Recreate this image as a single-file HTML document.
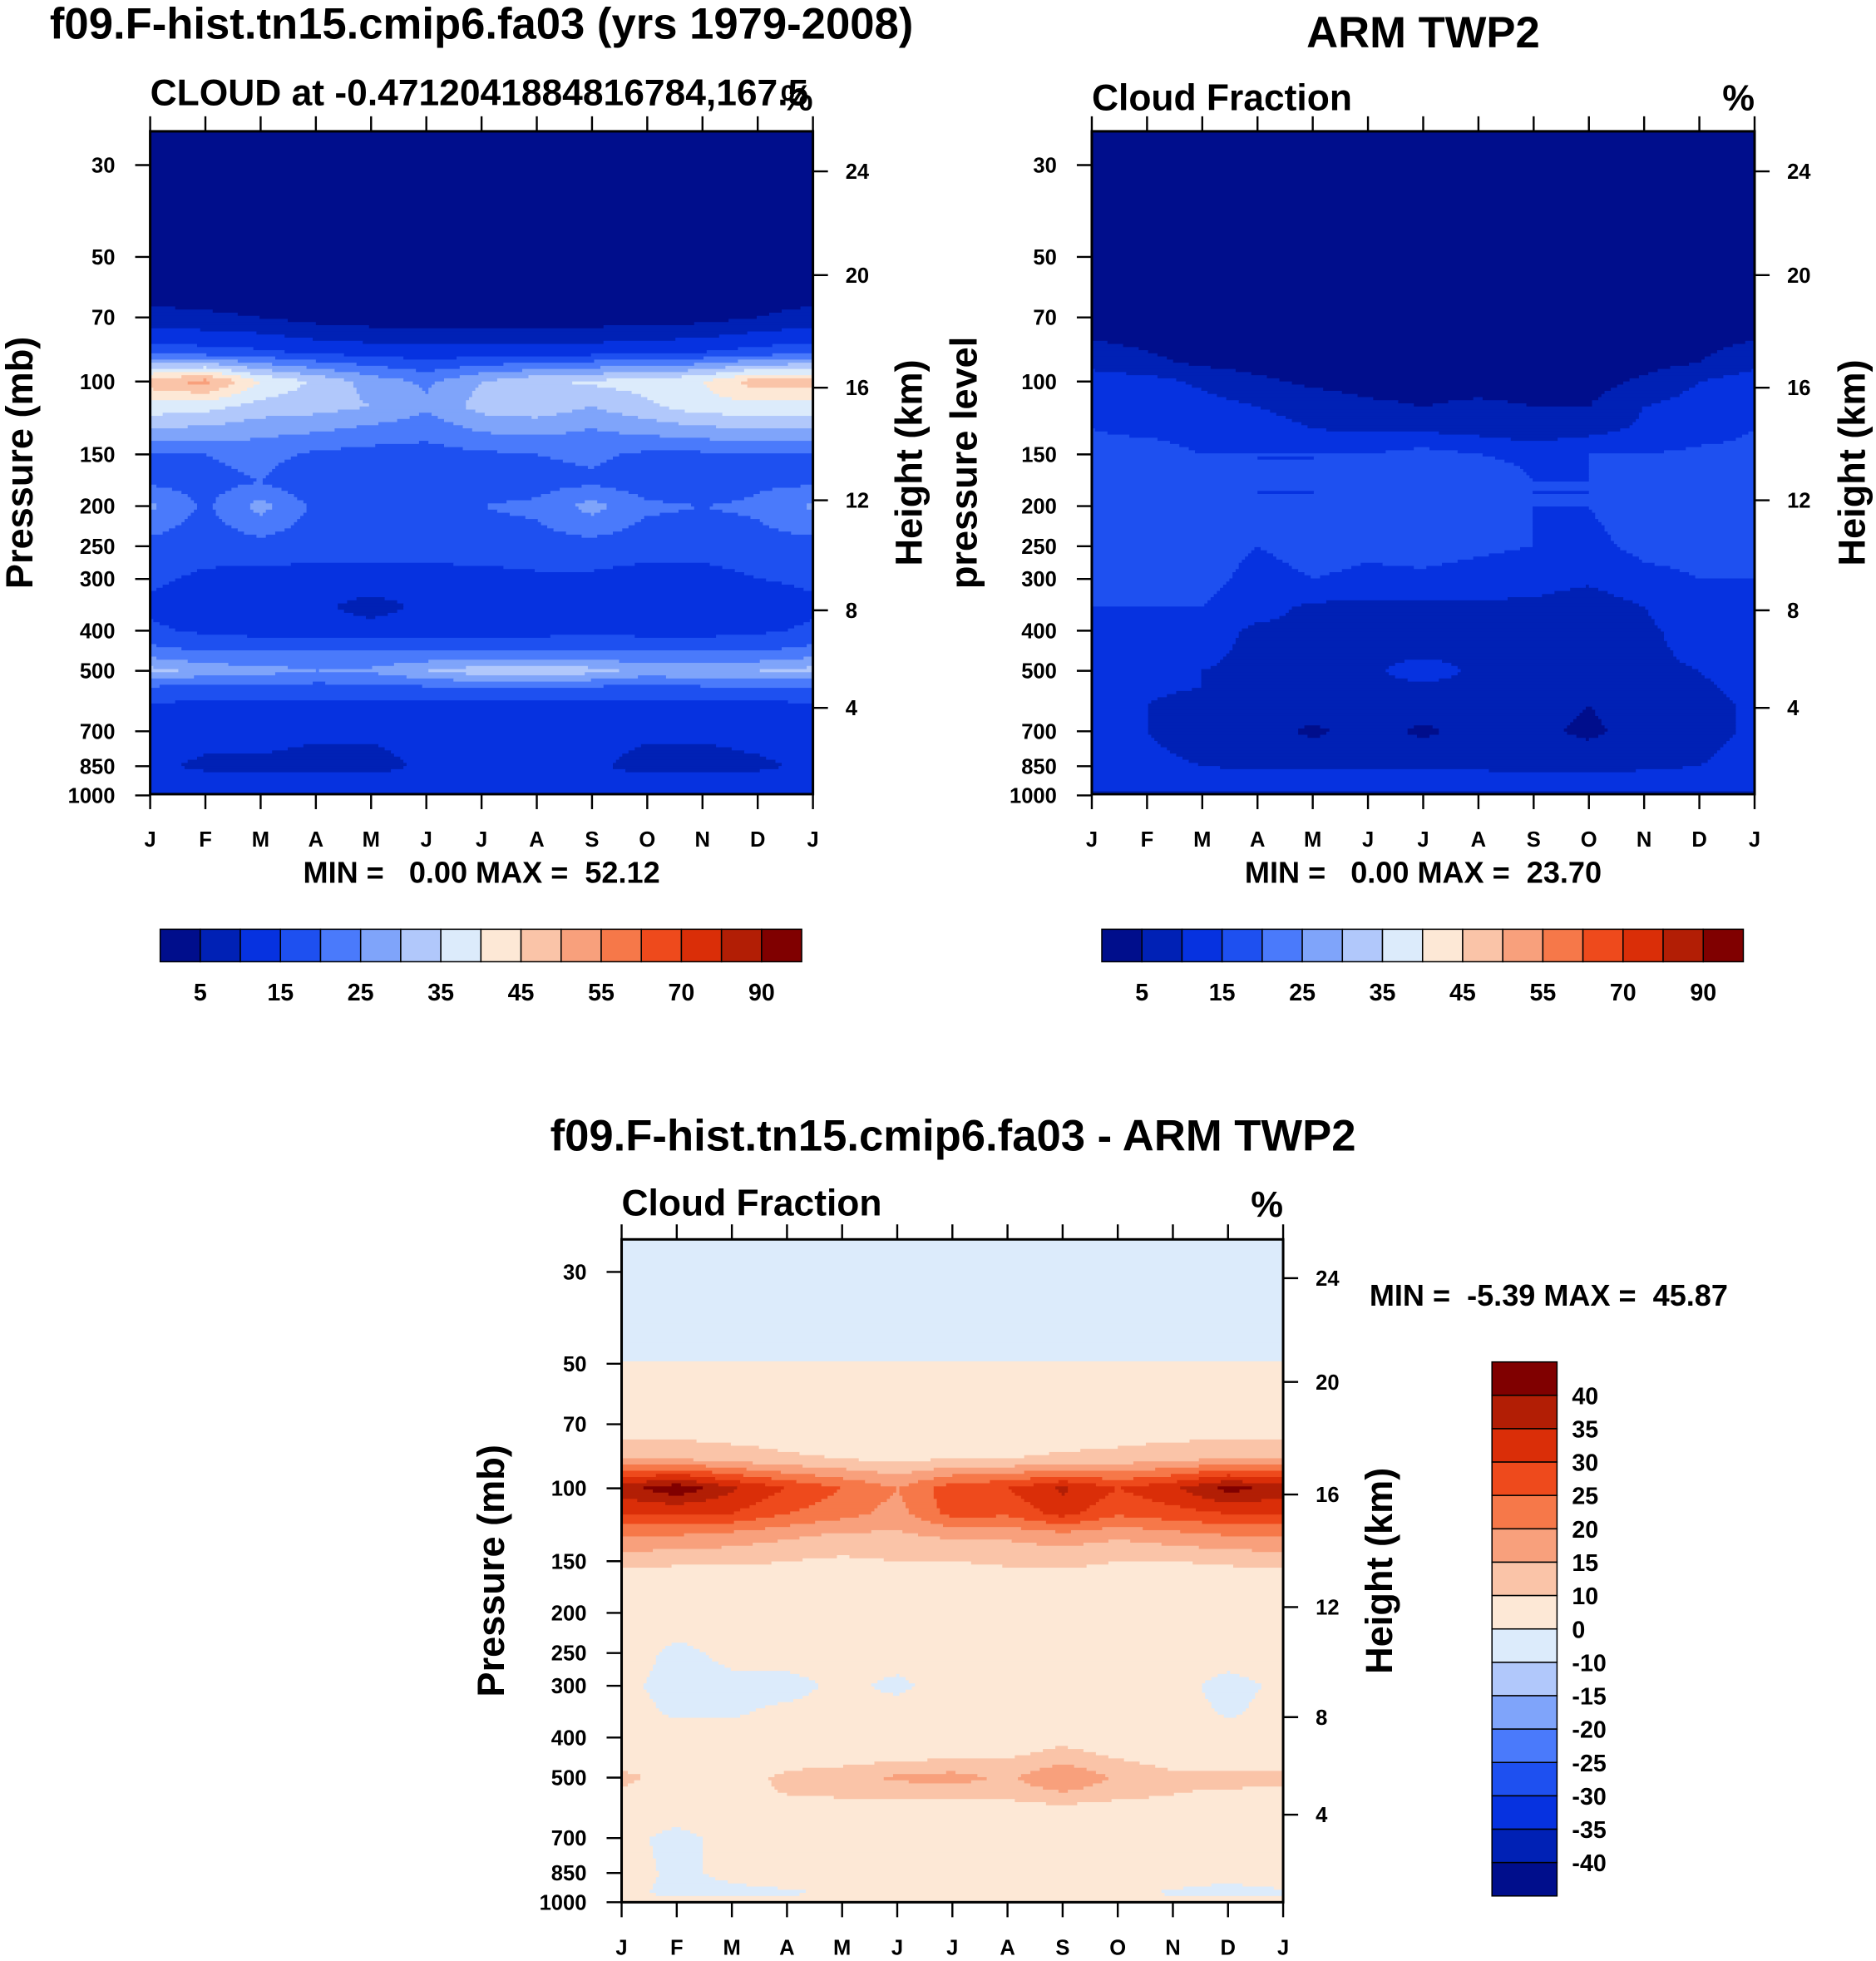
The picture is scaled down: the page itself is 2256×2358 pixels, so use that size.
<!DOCTYPE html>
<html><head><meta charset="utf-8"><style>
html,body{margin:0;padding:0;background:#fff}
svg{display:block}
text{font-family:"Liberation Sans",Arial,sans-serif;font-weight:bold;fill:#000}
</style></head><body>
<svg id="root" xmlns="http://www.w3.org/2000/svg" width="2256" height="2358" viewBox="0 0 1500 1568">
<rect width="1500" height="1568" fill="#fff"/>
<g id="g"></g>
</svg>
<script>
// ---------------- data ----------------
const months=['J','F','M','A','M','J','J','A','S','O','N','D','J'];
const pTicks=[30,50,70,100,150,200,250,300,400,500,700,850,1000];
const hTickLabels=[24,20,16,12,8,4];
const cbLevels=[5,10,15,20,25,30,35,40,45,50,55,60,70,80,90];
const cbLabels=['5','15','25','35','45','55','70','90'];
const diffLevels=[-40,-35,-30,-25,-20,-15,-10,0,10,15,20,25,30,35,40];
const diffLabels=['40','35','30','25','20','15','10','0','-10','-15','-20','-25','-30','-35','-40'];

const pLevels1=[20,60,70,85,100,115,130,150,175,200,250,300,350,400,450,500,550,600,700,850,925,1000];
const model=[
[2,2,2,2,2,2,2,2,2,2,2,2,2],
[2,2,2,2,2,2,2,2,2,2,2,2,2],
[7,6,5,3,2,2,2,2,2,2,3,5,7],
[18,17,16,14,13,12,12,12,13,14,15,17,18],
[48,52,40,34,28,24,30,34,36,37,40,48,48],
[38,37,33,32,30,26,32,33,30,34,38,38,38],
[30,29,27,26,24,22,26,27,25,27,29,30,30],
[20,20,22,19,18,18,19,20,21,19,19,20,20],
[19,18,20,15,16,16,18,18,19,17,16,19,19],
[26,19,27,19,18,19,20,21,27,21,20,21,26],
[18,17,18,17,17,17,18,18,18,17,17,18,18],
[16,14,13,13,13,13,13,14,14,13,13,15,16],
[14,11,10,11,8,11,11,11,11,10,11,11,14],
[16,14,13,13,12,13,13,13,14,13,13,14,16],
[22,20,20,20,20,20,20,20,20,20,20,20,22],
[32,28,27,25,26,30,33,34,32,28,30,30,32],
[19,18,18,18,18,19,20,20,19,18,19,19,19],
[15,14,14,14,14,14,14,14,14,14,14,14,15],
[13,12,12,11,11,12,12,12,12,11,11,12,13],
[11,9,9,8,8,11,11,11,11,8,8,9,11],
[13,12,12,12,12,12,12,12,12,12,12,12,13],
[10,10,10,10,10,10,10,10,10,10,10,10,10]];

const pLevels2=[20,70,90,100,115,130,150,175,200,250,300,350,400,450,500,550,600,700,850,950,1000];
const obs=[
[2,2,2,2,2,2,2,2,2,2,2,2,2],
[2,2,2,2,2,2,2,2,2,2,2,2,2],
[8,6,4,3,2,2,2,2,2,2,3,5,8],
[13,12,9,6,4,3,3,3,3,3,6,10,13],
[14,13,12,10,8,6,5,6,5,5,10,12,14],
[15,14,13,12,10,9,9,8,6,8,11,13,15],
[16,17,15,15,15,15,17,15,14,15,15,16,16],
[16,18,17,15,15,17,18,18,15,15,17,16,16],
[18,18,19,15,15,16,19,19,15,15,17,19,18],
[15,17,18,15,17,16,17,16,15,14,16,16,15],
[15,15,17,13,15,14,14,13,12,11,14,15,15],
[15,15,15,12,9,9,9,9,9,7,10,14,15],
[15,14,12,9,9,9,9,9,8,6,9,12,15],
[14,13,11,9,9,9,9,9,8,5,9,11,14],
[13,12,10,9,9,9,12,9,8,5,9,10,13],
[12,11,10,9,9,9,9,9,8,5,9,9,12],
[11,10,8,8,8,8,8,8,8,5,8,8,11],
[11,10,8,7,4,7,4,7,6,4,7,8,11],
[12,11,10,9,9,9,9,9,8,8,9,10,12],
[14,14,14,14,14,14,14,14,14,14,14,14,14],
[8,8,8,8,8,8,8,8,8,8,8,8,8]];

const pLevels3=[20,45,55,70,85,100,115,130,150,175,200,250,300,350,400,450,500,550,600,700,850,950,1000];
const diff=[
[-3,-3,-3,-3,-3,-3,-3,-3,-3,-3,-3,-3,-3],
[-3,-3,-3,-3,-3,-3,-3,-3,-3,-3,-3,-3,-3],
[4,4,4,4,4,4,4,4,4,4,4,4,4],
[6,6,6,6,6,6,6,6,6,6,6,6,6],
[15,15,13,11,10,9,10,10,11,12,14,15,15],
[38,44,36,30,25,20,28,30,36,30,34,42,38],
[30,30,30,25,22,18,27,26,32,26,28,30,30],
[20,20,18,16,14,14,16,16,18,16,18,20,20],
[12,11,11,10,9,10,10,11,11,10,10,11,12],
[5,5,5,6,5,5,5,6,7,8,5,5,5],
[5,5,4,5,5,4,5,7,10,10,5,5,5],
[4,-2,2,4,4,4,5,5,7,7,4,4,4],
[2,-3,-2,-3,2,-2,4,4,4,4,3,-3,2],
[3,-1,-1,2,3,4,4,4,4,4,4,-1,3],
[4,4,4,4,5,5,5,5,8,5,4,4,4],
[6,7,8,8,8,9,10,10,13,10,8,7,6],
[12,7,8,11,13,16,17,14,20,14,11,12,12],
[8,7,9,10,11,11,12,12,14,12,10,9,8],
[6,5,6,6,6,6,6,6,8,6,6,5,6],
[3,-3,3,4,4,4,4,4,4,4,4,4,3],
[4,-2,2,4,4,4,4,4,4,4,4,2,4],
[2,-2,-2,-1,1,2,2,1,3,2,-1,-2,-1],
[3,3,3,3,3,3,3,3,3,3,3,3,3]];

const colors=['#000E8C','#0021B5','#0632E0','#1E50F0','#4A7AFB','#7FA4FA','#B1C8FB','#DCEBFB','#FDE8D6','#FAC4A8','#F8A07C','#F67849','#EE4A1C','#DA2E08','#B21E05','#800000'];

// ---------------- helpers ----------------
const NS='http://www.w3.org/2000/svg';
const G=document.getElementById('g');
function el(tag,attrs,parent,txt){const e=document.createElementNS(NS,tag);for(const k in attrs)e.setAttribute(k,attrs[k]);if(txt!==undefined)e.textContent=txt;(parent||G).appendChild(e);return e;}
function colorIdx(v,levels){let i=0;while(i<levels.length&&v>=levels[i])i++;return i;}
function sample(grid,pl,m,p){
  const lp=Math.log(p);let k=0;
  if(p<=pl[0])k=0;else if(p>=pl[pl.length-1])k=pl.length-2;else{while(k<pl.length-2&&pl[k+1]<p)k++;}
  let t=(lp-Math.log(pl[k]))/(Math.log(pl[k+1])-Math.log(pl[k]));t=Math.max(0,Math.min(1,t));
  const m0=Math.max(0,Math.min(11,Math.floor(m))),u=m-m0;
  const a=grid[k][m0]*(1-u)+grid[k][m0+1]*u;
  const b=grid[k+1][m0]*(1-u)+grid[k+1][m0+1]*u;
  return a*(1-t)+b*t;
}

function panel(o){
  const {x0,y0,w,h,y30,y1000,grid,pl,levels,name,hY}=o;
  const g=el('g',{});
  
  
  const lpT=Math.log10(30),lpB=Math.log10(1000);
  const yToP=y=>Math.pow(10,lpT+(y-y30)/(y1000-y30)*(lpB-lpT));
  const pToY=p=>y30+(Math.log10(p)-lpT)/(lpB-lpT)*(y1000-y30);
  const xScale=m=>x0+m/12*w;
  const field=el('g',{},g);
  
  
  const nx=Math.ceil(w/2.5),ny=Math.ceil(h/2.5);
  const sx=w/nx,sy=h/ny;
  for(let j=0;j<ny;j++){
    const y=y0+j*sy;
    const p=yToP(y+sy/2);
    let runStart=0,runC=-1;
    for(let i=0;i<=nx;i++){
      let c=-2;
      if(i<nx){const m=(i+0.5)/nx*12;c=colorIdx(sample(grid,pl,m,p),levels);}
      if(c!==runC){
        if(runC>=0){
          const xs=x0+runStart*sx, xe=x0+i*sx;
          el('rect',{x:xs,y:y,width:xe-xs+(i<nx?0.4:0),height:sy+(j<ny-1?0.4:0),fill:colors[runC]},field);
        }
        runStart=i;runC=c;
      }
    }
  }
  el('rect',{x:x0,y:y0,width:w,height:h,fill:'none',stroke:'#000','stroke-width':2},g);
  pTicks.forEach(p=>{const y=pToY(p);
    el('line',{x1:x0-12,y1:y,x2:x0,y2:y,stroke:'#000','stroke-width':1.6},g);
    const t=el('text',{x:x0-28,y:y+6,'font-size':17,'text-anchor':'end'},g,String(p));
    
    
  });
  hTickLabels.forEach((hk,i)=>{const y=hY[i];
    el('line',{x1:x0+w,y1:y,x2:x0+w+12,y2:y,stroke:'#000','stroke-width':1.6},g);
    const t=el('text',{x:x0+w+26,y:y+6,'font-size':17},g,String(hk));
    
    
  });
  months.forEach((mo,i)=>{const x=xScale(i);
    el('line',{x1:x,y1:y0+h,x2:x,y2:y0+h+12,stroke:'#000','stroke-width':1.6},g);
    el('line',{x1:x,y1:y0,x2:x,y2:y0-12,stroke:'#000','stroke-width':1.6},g);
    const t=el('text',{x:x,y:y0+h+42,'font-size':17,'text-anchor':'middle'},g,mo);
    
    
  });
}
function label(x,y,size,txt,name,anchor,rot){
  const a={x:x,y:y,'font-size':size,'text-anchor':anchor||'start'};
  if(rot)a.transform='rotate(-90 '+x+' '+y+')';
  const t=el('text',a,G,txt);
  
  
  t.setAttribute('xml:space','preserve');t.style.whiteSpace='pre';
  return t;
}
function hbar(x0,y0,w,h,name){
  const g=el('g',{});
  
  
  const bw=w/colors.length;
  colors.forEach((c,i)=>el('rect',{x:x0+i*bw,y:y0,width:bw,height:h,fill:c,stroke:'#000','stroke-width':1},g));
  cbLabels.forEach((l,i)=>{const t=el('text',{x:x0+(2*i+1)*bw,y:y0+h+31,'font-size':19,'text-anchor':'middle'},g,l);
    
    });
}

// ---------------- panels ----------------
const hY1=[137,220,310,400,488,566];
panel({x0:120,y0:105,w:530,h:530,y30:132,y1000:636,grid:model,pl:pLevels1,levels:cbLevels,name:'model-panel',hY:hY1});
panel({x0:873,y0:105,w:530,h:530,y30:132,y1000:636,grid:obs,pl:pLevels2,levels:cbLevels,name:'obs-panel',hY:hY1});
panel({x0:497,y0:991,w:529,h:530,y30:1017,y1000:1521,grid:diff,pl:pLevels3,levels:diffLevels,name:'diff-panel',hY:[1022,1105,1195,1285,1373,1451]});

label(385,31,35,'f09.F-hist.tn15.cmip6.fa03 (yrs 1979-2008)','model-title','middle');
label(1138,38,35,'ARM TWP2','obs-title','middle');
label(120,84,29.5,'CLOUD at -0.4712041884816784,167.5','model-subtitle');
label(650,88,29,'%','model-units','end');
label(873,88,29.5,'Cloud Fraction','obs-subtitle');
label(1403,88,29,'%','obs-units','end');
label(26,370,30,'Pressure (mb)','model-y-axis-title','middle',true);
label(737,370,30,'Height (km)','model-right-axis-title','middle',true);
label(781,370,30,'pressure level','obs-y-axis-title','middle',true);
label(1491,370,30,'Height (km)','obs-right-axis-title','middle',true);
label(385,706,24,'MIN =   0.00 MAX =  52.12','model-minmax','middle');
label(1138,706,24,'MIN =   0.00 MAX =  23.70','obs-minmax','middle');
hbar(128,743,513,26,'model-colorbar');
hbar(881,743,513,26,'obs-colorbar');

label(762,920,35,'f09.F-hist.tn15.cmip6.fa03 - ARM TWP2','diff-title','middle');
label(497,972,29.5,'Cloud Fraction','diff-subtitle');
label(1026,973,29,'%','diff-units','end');
label(403,1256,30,'Pressure (mb)','diff-y-axis-title','middle',true);
label(1113,1256,30,'Height (km)','diff-right-axis-title','middle',true);
label(1095,1044,24,'MIN =  -5.39 MAX =  45.87','diff-minmax');

(function(){
  const g=el('g',{});
  
  
  const x0=1193,y0=1089,w=52,h=427,bh=h/colors.length;
  colors.slice().reverse().forEach((c,i)=>el('rect',{x:x0,y:y0+i*bh,width:w,height:bh,fill:c,stroke:'#000','stroke-width':1},g));
  diffLabels.forEach((l,i)=>{const t=el('text',{x:x0+w+12,y:y0+(i+1)*bh+7,'font-size':19},g,l);
    
    });
})();
</script>
</body></html>
